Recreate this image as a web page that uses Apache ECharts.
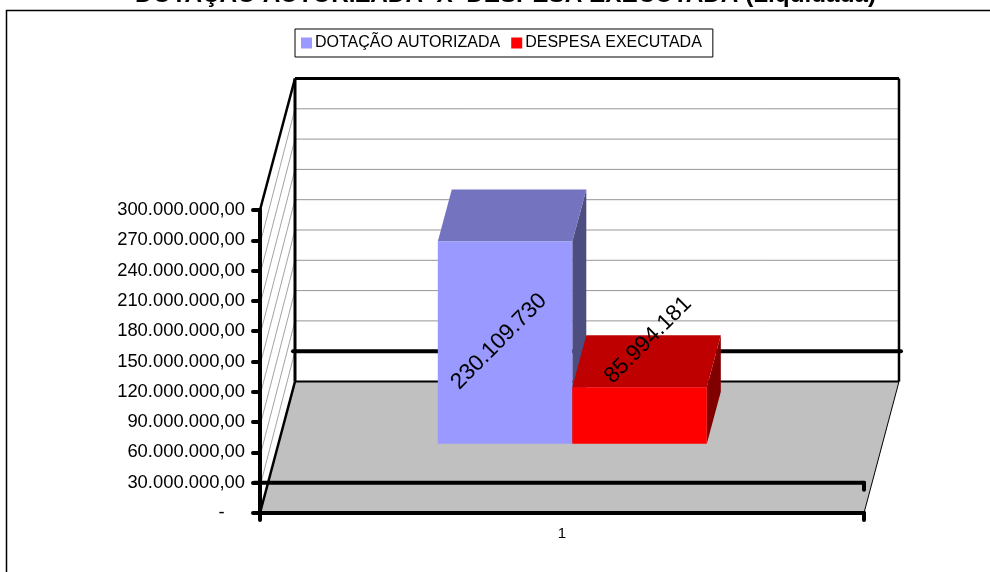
<!DOCTYPE html>
<html>
<head>
<meta charset="utf-8">
<style>html,body{margin:0;padding:0;background:#fff}#c{width:990px;height:572px}</style>
<script src="https://cdn.jsdelivr.net/npm/echarts@6/dist/echarts.min.js"></script>
</head>
<body>
<div id="c"></div>
<script>
const titleText = 'DOTAÇÃO AUTORIZADA  X  DESPESA EXECUTADA (Liquidada)';
const categories = ['1'];
const seriesNames = ['DOTAÇÃO AUTORIZADA', 'DESPESA EXECUTADA'];
const dotacao = [230109730];
const despesa = [85994181];
const axisTicks = [0, 30000000, 60000000, 90000000, 120000000, 150000000, 180000000, 210000000, 240000000, 270000000, 300000000];
const crossValue = 30000000;

const font = 'Liberation Sans';
const DX = 35, DY = -131.5;
const fmtAxis = v => v === 0 ? '-    ' : Math.round(v).toString().replace(/\B(?=(\d{3})+$)/g, '.') + ',00';
const fmtBar = v => Math.round(v).toString().replace(/\B(?=(\d{3})+$)/g, '.');
const line = (x1, y1, x2, y2, stroke, lineWidth, cap) => ({
  type: 'line', silent: true,
  shape: {x1, y1, x2, y2},
  style: {stroke, lineWidth, lineCap: cap || 'butt', fill: null}
});
const poly = (pts, fill) => ({type: 'polygon', silent: true, shape: {points: pts}, style: {fill, stroke: null}});

function renderRoom(params, api) {
  const cs = params.coordSys;
  const L = cs.x, R = cs.x + cs.width;
  const yOf = v => api.coord([categories[0], v])[1];
  const y0 = yOf(axisTicks[0]), yT = yOf(axisTicks[axisTicks.length - 1]);
  const ch = [
    poly([[L + DX, yT + DY], [R + DX, yT + DY], [R + DX, y0 + DY], [L + DX, y0 + DY]], '#ffffff'),
    poly([[L, yT], [L + DX, yT + DY], [L + DX, y0 + DY], [L, y0]], '#ffffff'),
    poly([[L, y0], [L + DX, y0 + DY], [R + DX, y0 + DY], [R, y0]], '#c0c0c0')
  ];
  axisTicks.forEach(v => {
    if (v === axisTicks[0] || v === axisTicks[axisTicks.length - 1]) return;
    const y = yOf(v);
    ch.push(line(L + 1, y, L + DX, y + DY, '#8c8c8c', 0.8));
    if (v !== crossValue) ch.push(line(L + DX, y + DY, R + DX, y + DY, '#969696', 1));
  });
  const yc = yOf(crossValue);
  ch.push(line(L + DX - 2, yc + DY, R + DX + 2, yc + DY, '#000', 4, 'round'));
  ch.push(line(L + DX, y0 + DY, R + DX, y0 + DY, '#000', 2));
  ch.push(line(L + DX, yT + DY, R + DX, yT + DY, '#000', 3));
  ch.push(line(L + DX, yT + DY, L + DX, y0 + DY, '#000', 3));
  ch.push(line(R + DX, yT + DY, R + DX, y0 + DY, '#000', 2.5));
  ch.push(line(L, yT, L + DX, yT + DY, '#000', 2.5));
  ch.push(line(L, y0, L + DX, y0 + DY, '#000', 2.5));
  ch.push(line(R, y0, R + DX, y0 + DY, '#000', 1));
  return {type: 'group', children: ch};
}

function barRenderer(slot, colors, labelOffset) {
  return function (params, api) {
    const v = api.value(1);
    const band = api.size([1, 0])[0];
    const w = band * 0.2227;
    const top = api.coord([categories[0], v]);
    const base = api.coord([categories[0], crossValue]);
    const fx = 10.3, fy = -39, bx = 14, by = -52;
    const x0 = top[0] + (slot - 1) * w + fx, x1 = x0 + w;
    const yb = base[1] + fy, yt = top[1] + fy;
    return {type: 'group', children: [
      poly([[x1, yt], [x1 + bx, yt + by], [x1 + bx, yb + by], [x1, yb]], colors[2]),
      poly([[x0, yt], [x1, yt], [x1 + bx, yt + by], [x0 + bx, yt + by]], colors[1]),
      poly([[x0, yt], [x1, yt], [x1, yb], [x0, yb]], colors[0]),
      {type: 'text', silent: true, z2: 50,
        x: (x0 + x1) / 2 + labelOffset[0], y: yt + labelOffset[1], rotation: Math.PI / 4,
        style: {text: fmtBar(v), fill: '#000', fontFamily: font, fontSize: 22.5, align: 'center', verticalAlign: 'middle'}}
    ]};
  };
}

function renderCross(params, api) {
  const cs = params.coordSys;
  const L = cs.x, R = cs.x + cs.width;
  const y = api.coord([categories[0], api.value(1)])[1];
  return {type: 'group', children: [
    line(L - 6, y, R, y, '#000', 4, 'round'),
    line(R, y, R, y + 7, '#000', 4, 'round')
  ]};
}

const chart = echarts.init(document.getElementById('c'));
chart.setOption({
  animation: false,
  backgroundColor: '#ffffff',
  textStyle: {fontFamily: font, color: '#000'},
  title: {
    text: titleText, left: 135, top: -17, padding: 0,
    textStyle: {fontFamily: font, fontWeight: 'bold', fontSize: 24.3, color: '#000'}
  },
  legend: {
    data: seriesNames, left: 295, top: 29, padding: [6, 11, 6, 6],
    backgroundColor: '#fff', borderColor: '#000', borderWidth: 1,
    itemWidth: 11, itemHeight: 11, itemGap: 11, icon: 'rect',
    selectedMode: false,
    textStyle: {fontFamily: font, fontSize: 16, color: '#000', padding: [0, 0, 0, -2]}
  },
  grid: {left: 260, top: 210, width: 604, height: 303, containLabel: false},
  graphic: [{type: 'rect', silent: true, z: -1,
    shape: {x: 6.5, y: 10.5, width: 1100, height: 700},
    style: {fill: null, stroke: '#000', lineWidth: 1.5}}],
  xAxis: {
    type: 'category', data: categories, z: 10,
    axisLine: {onZero: false, lineStyle: {color: '#000', width: 4}},
    axisTick: {show: true, length: 7, lineStyle: {color: '#000', width: 4, cap: 'round'}},
    axisLabel: {color: '#000', fontFamily: font, fontSize: 15, margin: 13},
    splitLine: {show: false}
  },
  yAxis: {
    type: 'value', min: 0, max: 300000000, interval: 30000000, z: 10,
    axisLine: {show: true, lineStyle: {color: '#000', width: 4}},
    axisTick: {show: true, length: 7, lineStyle: {color: '#000', width: 4, cap: 'round'}},
    axisLabel: {color: '#000', fontFamily: font, fontSize: 18.4, margin: 15, formatter: fmtAxis, hideOverlap: false},
    splitLine: {show: false}
  },
  series: [
    {type: 'custom', name: 'room', z: 1, clip: false, silent: true, data: [[categories[0], axisTicks[0]]],
      encode: {x: 0, y: 1}, renderItem: renderRoom},
    {type: 'custom', name: seriesNames[0], z: 3, clip: false, silent: true,
      itemStyle: {color: '#9999FF'},
      data: dotacao.map((v, i) => [categories[i], v]), encode: {x: 0, y: 1},
      renderItem: barRenderer(0, ['#9999FF', '#7373BF', '#4D4D80'], [-6, 100])},
    {type: 'custom', name: seriesNames[1], z: 4, clip: false, silent: true,
      itemStyle: {color: '#FF0000'},
      data: despesa.map((v, i) => [categories[i], v]), encode: {x: 0, y: 1},
      renderItem: barRenderer(1, ['#FF0000', '#BF0000', '#800000'], [8.5, -47])},
    {type: 'custom', name: 'cross', z: 5, clip: false, silent: true, data: [[categories[0], crossValue]],
      encode: {x: 0, y: 1}, renderItem: renderCross}
  ]
});
</script>
</body>
</html>
